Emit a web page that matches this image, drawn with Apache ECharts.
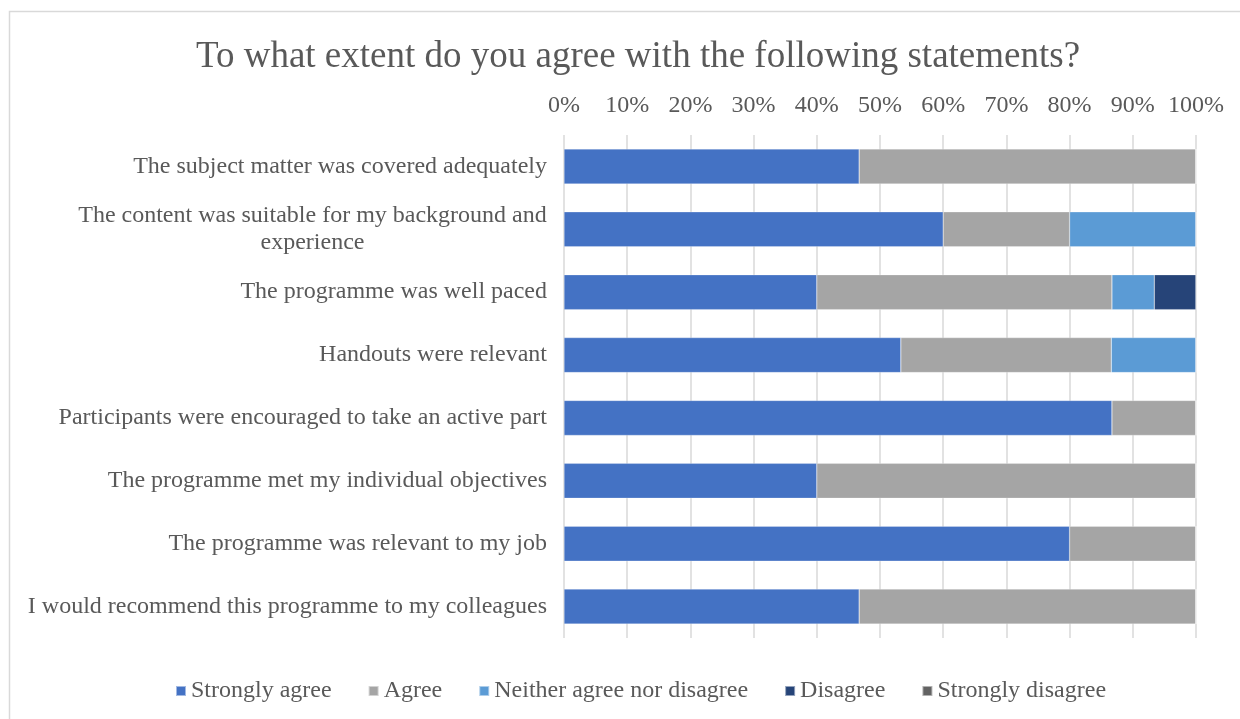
<!DOCTYPE html>
<html>
<head>
<meta charset="utf-8">
<script src="https://cdn.jsdelivr.net/npm/echarts@6/dist/echarts.min.js"></script>
<style>
html,body{margin:0;padding:0;background:#fff;}
#chart{width:1240px;height:719px;}
</style>
</head>
<body>
<div id="chart"></div>
<script>
const categories = [
  "The subject matter was covered adequately",
  "The content was suitable for my background and experience",
  "The programme was well paced",
  "Handouts were relevant",
  "Participants were encouraged to take an active part",
  "The programme met my individual objectives",
  "The programme was relevant to my job",
  "I would recommend this programme to my colleagues"
];
const seriesNames = ["Strongly agree", "Agree", "Neither agree nor disagree", "Disagree", "Strongly disagree"];
const stronglyAgree = [46.7, 60, 40, 53.3, 86.7, 40, 80, 46.7];
const agree = [53.3, 20, 46.7, 33.3, 13.3, 60, 20, 53.3];
const neither = [0, 20, 6.7, 13.4, 0, 0, 0, 0];
const disagree = [0, 0, 6.6, 0, 0, 0, 0, 0];
const stronglyDisagree = [0, 0, 0, 0, 0, 0, 0, 0];
const tickLabels = ["0%","10%","20%","30%","40%","50%","60%","70%","80%","90%","100%"];

const colors = ["#4472C4", "#A5A5A5", "#5B9BD5", "#264478", "#636363"];
const FONT = '"Liberation Serif", "Times New Roman", serif';
const FS = 24;
const values = [stronglyAgree, agree, neither, disagree, stronglyDisagree];

const ctx = document.createElement('canvas').getContext('2d');
ctx.font = FS + 'px ' + FONT;
const MAXW = 530;
function wrap(text) {
  const words = text.split(' ');
  const lines = [];
  let cur = '';
  for (const w of words) {
    const t = cur ? cur + ' ' + w : w;
    if (ctx.measureText(t).width > MAXW && cur) { lines.push(cur); cur = w; }
    else cur = t;
  }
  if (cur) lines.push(cur);
  return lines;
}
let wrapW = 0;
categories.forEach(c => {
  const ls = wrap(c);
  if (ls.length > 1) ls.forEach(l => { wrapW = Math.max(wrapW, Math.ceil(ctx.measureText(l).width)); });
});

const chart = echarts.init(document.getElementById('chart'), null, {renderer: 'canvas'});
chart.setOption({
  backgroundColor: '#fff',
  animation: false,
  color: colors,
  title: {
    text: 'To what extent do you agree with the following statements?',
    left: 633,
    textAlign: 'center',
    top: 34,
    textStyle: {fontFamily: FONT, fontSize: 37, fontWeight: 'normal', color: '#595959'}
  },
  graphic: [{
    type: 'rect',
    shape: {x: 9.5, y: 11.5, width: 1300, height: 800},
    style: {fill: 'none', stroke: '#d9d9d9', lineWidth: 1.5},
    silent: true
  }],
  legend: {
    bottom: 11,
    left: 170,
    itemWidth: 10,
    itemHeight: 10,
    itemGap: 36,
    icon: 'rect',
    data: seriesNames,
    textStyle: {fontFamily: FONT, fontSize: FS, color: '#595959'}
  },
  grid: {left: 564, right: 44, top: 135, bottom: 81, containLabel: false},
  xAxis: {
    type: 'value',
    position: 'top',
    min: 0, max: 100, interval: 10,
    axisLine: {show: false},
    axisTick: {show: false},
    splitLine: {show: true, lineStyle: {color: '#d9d9d9', width: 1.5}},
    axisLabel: {
      fontFamily: FONT, fontSize: FS, color: '#595959', margin: 17,
      formatter: function (v) { return tickLabels[Math.round(v / 10)]; }
    }
  },
  yAxis: {
    type: 'category',
    inverse: true,
    data: categories,
    axisLine: {show: false},
    axisTick: {show: false},
    axisLabel: {
      fontFamily: FONT, fontSize: FS, color: '#595959', margin: 17, lineHeight: 27,
      formatter: function (v) {
        const lines = wrap(v);
        if (lines.length === 1) return v;
        return lines.map(l => '{c|' + l + '}').join('\n');
      },
      rich: {c: {fontFamily: FONT, fontSize: FS, color: '#595959', lineHeight: 27, width: wrapW, align: 'center'}}
    }
  },
  series: seriesNames.map((n, i) => ({
    name: n,
    type: 'bar',
    stack: 'total',
    barWidth: 35,
    data: values[i],
    itemStyle: {color: colors[i], borderColor: 'rgba(255,255,255,0.5)', borderWidth: 0.5}
  }))
});
</script>
</body>
</html>
